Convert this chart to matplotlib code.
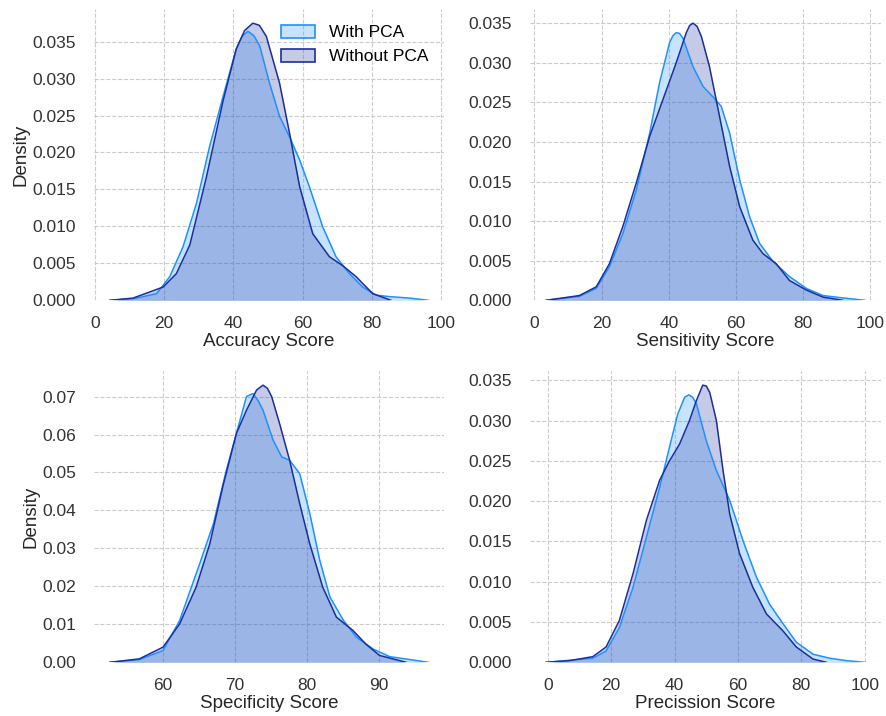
import matplotlib.pyplot as plt
from matplotlib.patches import Patch

plt.rcParams["font.family"] = ["Liberation Sans", "DejaVu Sans"]

# density curves (score, density)
acc_x_with = [4.3, 11, 17.8, 21.6, 25.4, 29.3, 33.1, 37.0, 40.8, 42.6, 44.2, 45.9, 47.6, 50.4, 53.3, 56.2,
              59.1, 61.9, 65.8, 69.6, 73.5, 77.3, 81.2, 85.0, 90.8, 96.3]
acc_y_with = [0, 0.0002, 0.0009, 0.0032, 0.0072, 0.0131, 0.0208, 0.0276, 0.0340, 0.0358, 0.0364, 0.0358,
              0.0344, 0.0294, 0.0249, 0.0221, 0.0190, 0.0154, 0.0099, 0.0059, 0.0036, 0.0018, 0.0007,
              0.0005, 0.0003, 0]
acc_x_without = [4.3, 11, 19.7, 23.5, 27.4, 32.2, 37.0, 40.8, 43.2, 45.6, 47.5, 49.5, 53.3, 56.2, 59.1,
                 62.9, 67.7, 71.5, 75.4, 80.2, 85.5]
acc_y_without = [0, 0.0003, 0.0018, 0.0036, 0.0075, 0.0167, 0.0270, 0.0340, 0.0365, 0.0375, 0.0372, 0.0357,
                 0.0294, 0.0226, 0.0154, 0.0090, 0.0059, 0.0047, 0.0032, 0.0009, 0]

sens_x_with = [3.5, 13.4, 18.4, 22.3, 26.3, 30.3, 34.3, 37.2, 40.2, 41.2, 42.2, 43.2, 44.2, 47.2, 50.2,
               53.1, 55.6, 58.1, 61.1, 64.0, 67.0, 71.0, 75.9, 80.9, 85.9, 91.8, 98.3]
sens_y_with = [0, 0.0005, 0.0015, 0.0042, 0.0084, 0.0139, 0.0211, 0.0274, 0.0325, 0.0334, 0.0338, 0.0337,
               0.0331, 0.0295, 0.0270, 0.0257, 0.0245, 0.0211, 0.0152, 0.0106, 0.0072, 0.0049, 0.0030,
               0.0015, 0.0006, 0.0003, 0]
sens_x_without = [3.5, 13.4, 18.4, 22.3, 26.3, 30.3, 34.3, 38.2, 42.2, 45.2, 46.2, 47.2, 48.4, 49.7, 52.1,
                  54.1, 56.1, 58.1, 61.1, 65.0, 68.0, 72.0, 75.9, 80.9, 85.9, 91.8]
sens_y_without = [0, 0.0006, 0.0017, 0.0046, 0.0093, 0.0148, 0.0207, 0.0253, 0.0300, 0.0338, 0.0347, 0.0350,
                  0.0346, 0.0333, 0.0295, 0.0253, 0.0211, 0.0169, 0.0118, 0.0076, 0.0059, 0.0046, 0.0025,
                  0.0013, 0.0004, 0]

spec_x_with = [52.6, 56.7, 60.0, 62.3, 65.1, 67.0, 68.8, 70.2, 71.6, 72.5, 73.2, 73.9, 75.3, 76.5, 77.6,
               79.0, 80.4, 81.8, 83.2, 85.1, 86.9, 89.2, 91.5, 96.9]
spec_y_with = [0, 0.0007, 0.0031, 0.0110, 0.0260, 0.0365, 0.0506, 0.0603, 0.0700, 0.0708, 0.0690, 0.0664,
               0.0585, 0.0541, 0.0532, 0.0497, 0.0392, 0.0268, 0.0172, 0.0110, 0.0066, 0.0035, 0.0015, 0]
spec_x_without = [52.6, 56.7, 60.0, 62.3, 64.6, 66.5, 68.3, 70.2, 71.6, 73.0, 73.9, 74.5, 75.1, 76.2, 77.6,
                  79.0, 80.4, 82.2, 84.1, 86.4, 88.2, 90.1, 93.8]
spec_y_without = [0, 0.0009, 0.0040, 0.0101, 0.0198, 0.0312, 0.0462, 0.0603, 0.0664, 0.0717, 0.0730, 0.0722,
                  0.0700, 0.0629, 0.0532, 0.0418, 0.0312, 0.0198, 0.0119, 0.0084, 0.0048, 0.0018, 0]

prec_x_with = [-0.5, 14.2, 18.4, 22.6, 26.9, 31.1, 35.3, 38.4, 41.0, 43.2, 44.5, 45.7, 46.9, 50.0, 53.2,
               57.4, 61.6, 65.8, 70.0, 74.2, 78.4, 83.7, 89.0, 94.3, 100.0]
prec_y_with = [0, 0.0005, 0.0014, 0.0043, 0.0093, 0.0155, 0.0217, 0.0267, 0.0308, 0.0329, 0.0332, 0.0329,
               0.0321, 0.0275, 0.0238, 0.0201, 0.0151, 0.0106, 0.0072, 0.0048, 0.0025, 0.0010, 0.0005,
               0.0002, 0]
prec_x_without = [-0.5, 6.8, 14.2, 18.4, 22.6, 26.9, 31.1, 35.3, 38.4, 41.6, 44.7, 46.9, 48.9, 50.0, 51.1,
                  53.2, 55.3, 57.4, 60.5, 64.7, 69.0, 74.2, 78.4, 83.7, 87.9]
prec_y_without = [0, 0.0002, 0.0007, 0.0019, 0.0052, 0.0110, 0.0176, 0.0226, 0.0250, 0.0271, 0.0300, 0.0325,
                  0.0344, 0.0343, 0.0335, 0.0300, 0.0238, 0.0184, 0.0135, 0.0093, 0.0060, 0.0039, 0.0019,
                  0.0004, 0]

panels = [
    ("Accuracy Score", acc_x_with, acc_y_with, acc_x_without, acc_y_without),
    ("Sensitivity Score", sens_x_with, sens_y_with, sens_x_without, sens_y_without),
    ("Specificity Score", spec_x_with, spec_y_with, spec_x_without, spec_y_without),
    ("Precission Score", prec_x_with, prec_y_with, prec_x_without, prec_y_without),
]
labels = ["With PCA", "Without PCA"]
colorWith = "#1e90ff"
colorWithout = "#1a2f9c"

fig, axes = plt.subplots(2, 2, figsize=(8.86, 7.16), dpi=100)
fig.subplots_adjust(left=0.106, right=0.994, top=0.987, bottom=0.075, wspace=0.245, hspace=0.244)

for i, (ax, (name, xw, yw, xo, yo)) in enumerate(zip(axes.flat, panels)):
    ax.fill_between(xw, yw, color=colorWith, alpha=0.25, linewidth=0)
    ax.plot(xw, yw, color=colorWith, linewidth=1.1)
    ax.fill_between(xo, yo, color=colorWithout, alpha=0.25, linewidth=0)
    ax.plot(xo, yo, color=colorWithout, linewidth=1.1)
    ax.set_ylim(bottom=0)
    ax.set_xlabel(name, fontsize=13.5, color="#262626", labelpad=2)
    if i % 2 == 0:
        ax.set_ylabel("Density", fontsize=13.5, color="#262626", labelpad=2)
    ax.grid(True, linestyle="--", color="#cccccc", linewidth=0.8)
    ax.set_axisbelow(True)
    for s in ax.spines.values():
        s.set_visible(False)
    ax.tick_params(length=0, labelsize=12.5, labelcolor="#333333")
    ax.tick_params(axis="x", pad=11)
    ax.tick_params(axis="y", pad=13)

axes[1, 0].set_xticks([60, 70, 80, 90])

handles = [Patch(facecolor=colorWith + "40", edgecolor=colorWith, linewidth=1.2),
           Patch(facecolor=colorWithout + "40", edgecolor=colorWithout, linewidth=1.2)]
axes[0, 0].legend(handles, labels, loc="upper right", frameon=False, fontsize=12.5,
                  handlelength=2.0, handleheight=0.75, borderaxespad=0.5)

plt.savefig("out.png", dpi=100)
